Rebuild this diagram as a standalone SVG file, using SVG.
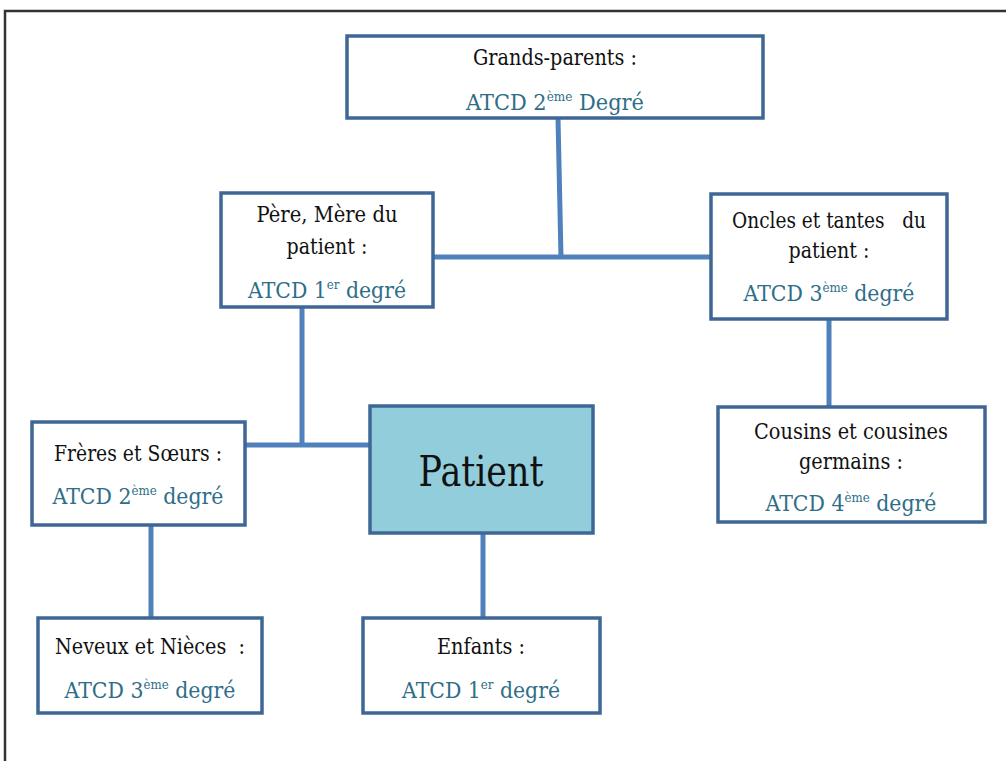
<svg xmlns="http://www.w3.org/2000/svg" width="1006" height="761" viewBox="0 0 1006 761">
<style>
.box{fill:#ffffff;stroke:#3f6796;stroke-width:3.5}
.pat{fill:#92cddc;stroke:#3f6796;stroke-width:3.5}
text{font-family:'DejaVu Serif','Liberation Serif',serif;white-space:pre}
.t{font-size:22.5px;fill:#111111;text-anchor:middle}
.a{font-size:22.5px;fill:#2f6e88;text-anchor:middle}
.sup{font-size:13px}
.big{font-size:43px;fill:#111111;text-anchor:middle}
.c{stroke:#4f81bd;stroke-width:5;fill:none}
</style>
<rect x="0" y="0" width="1006" height="761" fill="#ffffff"/>
<path d="M5 770 V11 H1010" fill="none" stroke="#333333" stroke-width="2.5"/>
<g id="connectors">
<path class="c" d="M558 118 L561 257"/>
<path class="c" d="M433 257 H711"/>
<path class="c" d="M302 307 V445"/>
<path class="c" d="M245 445 H370"/>
<path class="c" d="M151 525 V618"/>
<path class="c" d="M483 533 V618"/>
<path class="c" d="M829 319 V407"/>
</g>
<g id="grands-parents">
<rect class="box" x="347" y="36" width="416" height="82"/>
<text class="t" x="555" y="65" textLength="164" lengthAdjust="spacingAndGlyphs">Grands-parents :</text>
<text class="a" x="555" y="110" textLength="178" lengthAdjust="spacingAndGlyphs">ATCD 2<tspan class="sup" dy="-9">ème</tspan><tspan dy="9"> Degré</tspan></text>
</g>
<g id="parents">
<rect class="box" x="221" y="193" width="212" height="114"/>
<text class="t" x="327" y="222" textLength="141" lengthAdjust="spacingAndGlyphs">Père, Mère du</text>
<text class="t" x="327" y="254" textLength="81" lengthAdjust="spacingAndGlyphs">patient :</text>
<text class="a" x="327" y="298" textLength="158" lengthAdjust="spacingAndGlyphs">ATCD 1<tspan class="sup" dy="-9">er</tspan><tspan dy="9"> degré</tspan></text>
</g>
<g id="oncles">
<rect class="box" x="711" y="194" width="236" height="125"/>
<text class="t" x="829" y="228" textLength="194" lengthAdjust="spacingAndGlyphs">Oncles et tantes   du</text>
<text class="t" x="829" y="258" textLength="81" lengthAdjust="spacingAndGlyphs">patient :</text>
<text class="a" x="829" y="301" textLength="171" lengthAdjust="spacingAndGlyphs">ATCD 3<tspan class="sup" dy="-9">ème</tspan><tspan dy="9"> degré</tspan></text>
</g>
<g id="freres">
<rect class="box" x="32" y="422" width="213" height="103"/>
<text class="t" x="138" y="461" textLength="168" lengthAdjust="spacingAndGlyphs">Frères et Sœurs :</text>
<text class="a" x="138" y="504" textLength="171" lengthAdjust="spacingAndGlyphs">ATCD 2<tspan class="sup" dy="-9">ème</tspan><tspan dy="9"> degré</tspan></text>
</g>
<g id="patient">
<rect class="pat" x="370" y="406" width="223" height="127"/>
<text class="big" x="481" y="486" textLength="125" lengthAdjust="spacingAndGlyphs">Patient</text>
</g>
<g id="cousins">
<rect class="box" x="718" y="407" width="267" height="115"/>
<text class="t" x="851" y="439" textLength="194" lengthAdjust="spacingAndGlyphs">Cousins et cousines</text>
<text class="t" x="851" y="469" textLength="104" lengthAdjust="spacingAndGlyphs">germains :</text>
<text class="a" x="851" y="511" textLength="171" lengthAdjust="spacingAndGlyphs">ATCD 4<tspan class="sup" dy="-9">ème</tspan><tspan dy="9"> degré</tspan></text>
</g>
<g id="neveux">
<rect class="box" x="38" y="618" width="224" height="95"/>
<text class="t" x="150" y="654" textLength="190" lengthAdjust="spacingAndGlyphs">Neveux et Nièces  :</text>
<text class="a" x="150" y="698" textLength="171" lengthAdjust="spacingAndGlyphs">ATCD 3<tspan class="sup" dy="-9">ème</tspan><tspan dy="9"> degré</tspan></text>
</g>
<g id="enfants">
<rect class="box" x="363" y="618" width="237" height="95"/>
<text class="t" x="481" y="654" textLength="88" lengthAdjust="spacingAndGlyphs">Enfants :</text>
<text class="a" x="481" y="698" textLength="158" lengthAdjust="spacingAndGlyphs">ATCD 1<tspan class="sup" dy="-9">er</tspan><tspan dy="9"> degré</tspan></text>
</g>
</svg>
